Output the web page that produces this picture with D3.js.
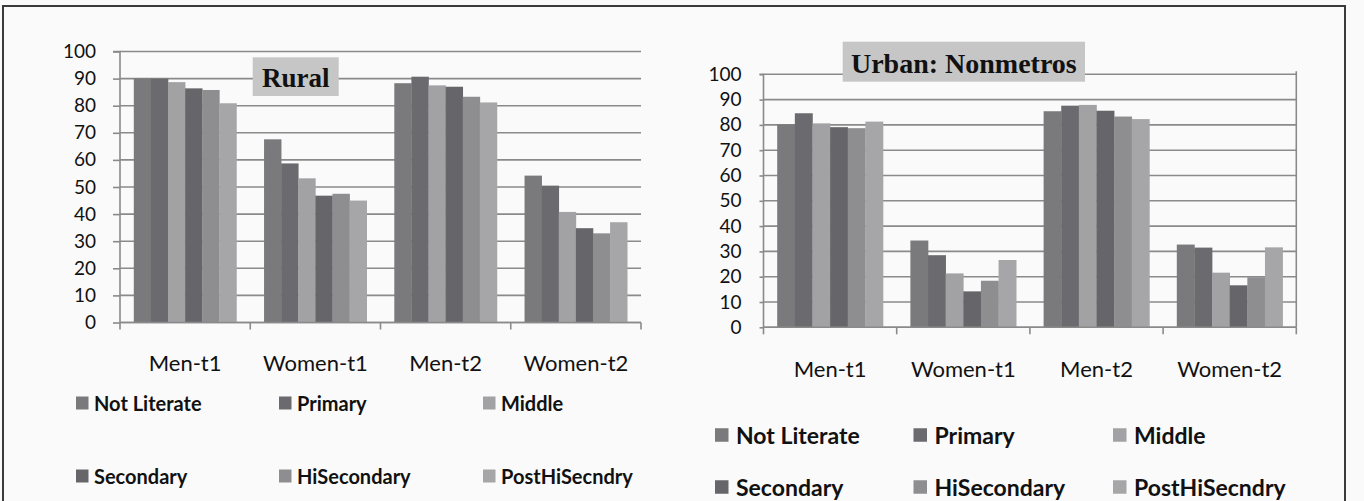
<!DOCTYPE html>
<html>
<head>
<meta charset="utf-8">
<script src="https://cdn.jsdelivr.net/npm/d3@7"></script>
<style>
  html, body { margin: 0; padding: 0; background: #fafafa; }
  svg { display: block; }
</style>
</head>
<body>
<svg id="chart" width="1364" height="501"></svg>
<script>
// ---- data ----
const categories = ["Men-t1", "Women-t1", "Men-t2", "Women-t2"];
const seriesNames = ["Not Literate", "Primary", "Middle", "Secondary", "HiSecondary", "PostHiSecndry"];
const yTicks = [0, 10, 20, 30, 40, 50, 60, 70, 80, 90, 100];

// values per category, in series order
const ruralMenT1   = [90.1, 90.0, 88.7, 86.4, 85.8, 80.9];
const ruralWomenT1 = [67.6, 58.7, 53.2, 46.8, 47.5, 45.0];
const ruralMenT2   = [88.3, 90.7, 87.5, 87.0, 83.3, 81.2];
const ruralWomenT2 = [54.2, 50.5, 40.8, 34.8, 32.9, 37.0];

const urbanMenT1   = [80.2, 84.6, 80.6, 79.1, 78.7, 81.3];
const urbanWomenT1 = [34.3, 28.5, 21.3, 14.2, 18.4, 26.6];
const urbanMenT2   = [85.4, 87.6, 87.9, 85.6, 83.3, 82.3];
const urbanWomenT2 = [32.7, 31.5, 21.6, 16.6, 19.8, 31.6];

const ruralValues = [ruralMenT1, ruralWomenT1, ruralMenT2, ruralWomenT2];
const urbanValues = [urbanMenT1, urbanWomenT1, urbanMenT2, urbanWomenT2];

const seriesColors = ["#7a7a7d", "#6b6b6f", "#a2a2a5", "#66666a", "#8e8e91", "#a6a6a8"];

// ---- drawing ----
const svg = d3.select("#chart");

// outer frame
svg.append("rect").attr("x", 0).attr("y", 0).attr("width", 1364).attr("height", 501).attr("fill", "#fafafa");
svg.append("path")
  .attr("d", "M3,520 L3,6 L1345,6 L1345,520")
  .attr("fill", "none").attr("stroke", "#3a3a3a").attr("stroke-width", 2);

function drawChart(cfg) {
  const g = svg.append("g");
  const x = d3.scaleBand().domain(categories).range([cfg.x0, cfg.x1]).padding(0);
  const bw = x.bandwidth();
  const xs = d3.scaleBand().domain(seriesNames).range([cfg.gpad, bw - cfg.gpad]).padding(0);
  const y = d3.scaleLinear().domain([0, 100]).range([cfg.yBottom, cfg.yTop]);

  // gridlines
  g.selectAll("line.grid").data(yTicks).join("line")
    .attr("x1", cfg.x0).attr("x2", cfg.x1)
    .attr("y1", d => y(d)).attr("y2", d => y(d))
    .attr("stroke", "#8a8a8a").attr("stroke-width", 1.6);

  // y axis
  const yAxis = d3.axisLeft(y).tickValues(yTicks).tickSize(cfg.yTickLen).tickPadding(cfg.yTickPad).tickFormat(d3.format("d"));
  const ya = g.append("g").attr("transform", `translate(${cfg.x0},0)`).call(yAxis);
  ya.select(".domain").attr("stroke", "#8a8a8a").attr("stroke-width", 1.6)
    .attr("d", `M${-cfg.yTickLen},${y(100)}H0V${y(0)}`);
  ya.selectAll(".tick line").attr("stroke", "#8a8a8a").attr("stroke-width", 1.6);
  ya.selectAll(".tick text").attr("font-family", "Lato, 'Open Sans', sans-serif")
    .attr("font-size", 19).attr("fill", "#111");

  // bars
  const groups = g.selectAll("g.cat").data(categories).join("g")
    .attr("transform", d => `translate(${x(d)},0)`);
  groups.selectAll("rect").data((d, i) => cfg.values[i].map((v, j) => ({ s: seriesNames[j], v, j })))
    .join("rect")
    .attr("x", d => xs(d.s))
    .attr("width", xs.bandwidth() + 0.3)
    .attr("y", d => y(d.v))
    .attr("height", d => y(0) - y(d.v))
    .attr("fill", d => seriesColors[d.j]);

  // x axis
  const xAxis = d3.axisBottom(x).tickSize(0).tickPadding(0);
  const xa = g.append("g").attr("transform", `translate(0,${cfg.yBottom})`).call(xAxis);
  xa.select(".domain").attr("stroke", "#8a8a8a").attr("stroke-width", 1.6).attr("d", `M${cfg.x0},0H${cfg.x1}`);
  xa.selectAll(".tick text")
    .attr("y", cfg.catBaseline - cfg.yBottom).attr("dy", 0)
    .attr("font-family", "Lato, 'Open Sans', sans-serif").attr("font-size", 22).attr("fill", "#111");
  // category boundary ticks
  const bounds = categories.map(c => x(c)).concat([cfg.x1]);
  g.selectAll("line.ctick").data(bounds).join("line")
    .attr("x1", d => d).attr("x2", d => d)
    .attr("y1", cfg.yBottom).attr("y2", cfg.yBottom + 7)
    .attr("stroke", "#8a8a8a").attr("stroke-width", 1.6);

  if (cfg.rightLine) {
    g.append("line").attr("x1", cfg.x1).attr("x2", cfg.x1)
      .attr("y1", y(100) - 3).attr("y2", cfg.yBottom)
      .attr("stroke", "#8a8a8a").attr("stroke-width", 1.6);
  }

  // title box
  g.append("rect").attr("x", cfg.title.x).attr("y", cfg.title.y)
    .attr("width", cfg.title.w).attr("height", cfg.title.h).attr("fill", "#c6c6c6");
  g.append("text").attr("x", cfg.title.x + cfg.title.w / 2).attr("y", cfg.title.baseline)
    .attr("text-anchor", "middle")
    .attr("font-family", "'Liberation Serif', 'Times New Roman', serif")
    .attr("font-weight", "bold").attr("font-size", cfg.title.size).attr("fill", "#111")
    .text(cfg.title.text);

  // legend
  const lg = g.append("g");
  const items = lg.selectAll("g").data(seriesNames).join("g")
    .attr("transform", (d, i) => `translate(${cfg.legend.cols[i % 3]},${cfg.legend.rows[Math.floor(i / 3)]})`);
  items.append("rect").attr("x", 0).attr("y", -cfg.legend.sq / 2 - 1)
    .attr("width", cfg.legend.sqw).attr("height", cfg.legend.sq)
    .attr("fill", (d, i) => seriesColors[i]);
  items.append("text").attr("x", cfg.legend.textDx).attr("y", 0).attr("dy", "0.35em")
    .attr("font-family", "Lato, 'Open Sans', sans-serif").attr("font-weight", "bold")
    .attr("font-size", cfg.legend.size).attr("fill", "#111")
    .text(d => d);
}

drawChart({
  values: ruralValues,
  x0: 120, x1: 641, yTop: 51.5, yBottom: 322.5, gpad: 13.8,
  yTickLen: 7, yTickPad: 17, catBaseline: 371, rightLine: false,
  title: { text: "Rural", x: 252.7, y: 57.3, w: 86, h: 38.7, baseline: 87, size: 27 },
  legend: { cols: [76, 279, 483], rows: [404, 477], sq: 13, sqw: 12.5, textDx: 18, size: 20 }
});

drawChart({
  values: urbanValues,
  x0: 763.5, x1: 1296.3, yTop: 74.3, yBottom: 327.3, gpad: 13.7,
  yTickLen: 4, yTickPad: 18, catBaseline: 377, rightLine: true,
  title: { text: "Urban: Nonmetros", x: 842.7, y: 41.7, w: 242.3, h: 40, baseline: 73, size: 28 },
  legend: { cols: [715, 913.5, 1113], rows: [436, 488], sq: 13.5, sqw: 13.5, textDx: 21, size: 23 }
});
</script>
</body>
</html>
